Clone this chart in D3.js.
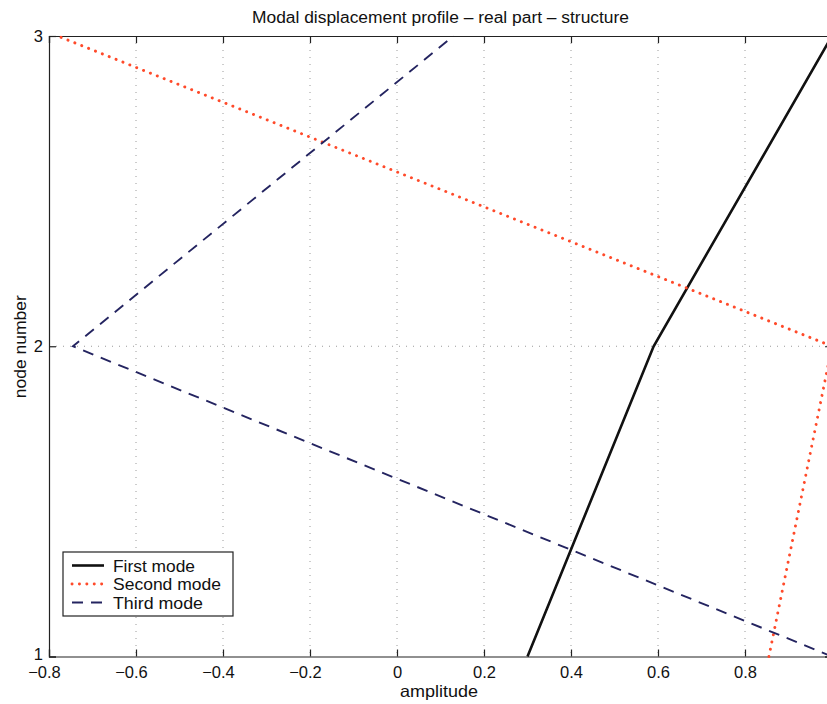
<!DOCTYPE html>
<html>
<head>
<meta charset="utf-8">
<script src="https://cdn.jsdelivr.net/npm/d3@7"></script>
<style>
  body { margin: 0; background: #fff; }
  text { font-family: "Liberation Sans", Arial, sans-serif; }
</style>
</head>
<body>
<div id="chart"></div>
<script>
// node numbers and modal amplitudes
var nodes = [1, 2, 3];
var firstMode = [0.30, 0.59, 1.00];
var secondMode = [0.855, 1.00, -0.78];
var thirdMode = [1.00, -0.745, 0.13];
var xTicks = [-0.8, -0.6, -0.4, -0.2, 0, 0.2, 0.4, 0.6, 0.8, 1.0];
var yTicks = [1, 2, 3];
var seriesNames = ["First mode", "Second mode", "Third mode"];

var w = 827;
var h = 704;

var xScale = d3.scaleLinear()
                .domain([-0.8, 1.0])
                .range([49, 832]);

var yScale = d3.scaleLinear()
                .domain([1, 3])
                .range([656.5, 36]);

var svg = d3.select('#chart')
            .append('svg')
            .attr('width', w)
            .attr('height', h);

// dotted grid
svg.append('g')
    .selectAll('line')
    .data(xTicks.slice(1, -1))
    .enter()
    .append('line')
    .attr('x1', function(d) { return xScale(d); })
    .attr('x2', function(d) { return xScale(d); })
    .attr('y1', yScale(3))
    .attr('y2', yScale(1))
    .attr('stroke', '#9a9a9a')
    .attr('stroke-width', 1)
    .attr('stroke-dasharray', '1,6');

svg.append('g')
    .selectAll('line')
    .data(yTicks.slice(1, -1))
    .enter()
    .append('line')
    .attr('x1', xScale(-0.8))
    .attr('x2', xScale(1.0))
    .attr('y1', function(d) { return yScale(d); })
    .attr('y2', function(d) { return yScale(d); })
    .attr('stroke', '#9a9a9a')
    .attr('stroke-width', 1)
    .attr('stroke-dasharray', '1,6');

var fmt = d3.format('');

// the right end of the axis is cut off by the picture edge, so no label for 1
var xAxis = d3.axisBottom(xScale)
              .tickValues(xTicks)
              .tickSize(-7)
              .tickPadding(10)
              .tickFormat(function(d) { return d >= 1 ? '' : fmt(+d.toFixed(1)); });

var gx = svg.append('g')
    .attr('transform', 'translate(0,' + yScale(1) + ')')
    .call(xAxis);

// matlab centres the digits and lets the minus hang to the left
gx.selectAll('.tick text')
    .attr('dx', function(d) { return d < 0 ? -5 : 0; });

var xTop = d3.axisTop(xScale)
             .tickValues(xTicks)
             .tickSize(-7)
             .tickFormat('');

var gxt = svg.append('g')
    .attr('transform', 'translate(0,' + yScale(3) + ')')
    .call(xTop);

var yAxis = d3.axisLeft(yScale)
              .tickValues(yTicks)
              .tickSize(-7)
              .tickPadding(6)
              .tickFormat(d3.format('d'));

var gy = svg.append('g')
    .attr('transform', 'translate(' + xScale(-0.8) + ',0)')
    .call(yAxis);

// lowest label sits a little higher so it clears the -0.8 below it
gy.selectAll('.tick text')
    .attr('dy', function(d) { return d === 1 ? '0.2em' : '0.32em'; });

var yRight = d3.axisRight(yScale)
               .tickValues(yTicks)
               .tickSize(-7)
               .tickFormat('');

var gyr = svg.append('g')
    .attr('transform', 'translate(' + xScale(1.0) + ',0)')
    .call(yRight);

[gx, gxt, gy, gyr].forEach(function(g) {
    g.selectAll('path').attr('stroke', '#222').attr('stroke-width', 1.2);
    g.selectAll('line').attr('stroke', '#222').attr('stroke-width', 1.2);
    g.selectAll('text')
        .attr('font-size', '16.5px')
        .attr('fill', '#111')
        .style('font-family', '"Liberation Sans", Arial, sans-serif');
});

// mode shapes
var modes = [
    { name: seriesNames[0], values: firstMode, color: '#111111', width: 2.6, dash: null, cap: 'butt', len: 82 },
    { name: seriesNames[1], values: secondMode, color: '#ff4a2a', width: 2.9, dash: '0.1,7.3', cap: 'round', len: 108 },
    { name: seriesNames[2], values: thirdMode, color: '#242460', width: 1.9, dash: '11,8', cap: 'butt', len: 90 }
];

var line = d3.line()
             .x(function(d) { return xScale(d[0]); })
             .y(function(d) { return yScale(d[1]); });

svg.append('defs')
    .append('clipPath')
    .attr('id', 'plotclip')
    .append('rect')
    .attr('x', xScale(-0.8))
    .attr('y', yScale(3) - 2)
    .attr('width', xScale(1.0) - xScale(-0.8))
    .attr('height', yScale(1) - yScale(3) + 4);

svg.append('g')
    .attr('clip-path', 'url(#plotclip)')
    .selectAll('path')
    .data(modes)
    .enter()
    .append('path')
    .attr('d', function(m) {
        return line(m.values.map(function(v, i) { return [v, nodes[i]]; }));
    })
    .attr('fill', 'none')
    .attr('stroke', function(m) { return m.color; })
    .attr('stroke-width', function(m) { return m.width; })
    .attr('stroke-dasharray', function(m) { return m.dash; })
    .attr('stroke-linecap', function(m) { return m.cap; });

// legend
var legend = svg.append('g').attr('transform', 'translate(63,552)');

legend.append('rect')
    .attr('width', 170)
    .attr('height', 64)
    .attr('fill', '#fff')
    .attr('stroke', '#222')
    .attr('stroke-width', 1.2);

var rows = legend.selectAll('g.row')
    .data(modes)
    .enter()
    .append('g')
    .attr('class', 'row')
    .attr('transform', function(d, i) { return 'translate(0,' + (13.5 + i * 18.5) + ')'; });

rows.append('line')
    .attr('x1', 9)
    .attr('x2', 41)
    .attr('y1', 0)
    .attr('y2', 0)
    .attr('stroke', function(m) { return m.color; })
    .attr('stroke-width', function(m) { return m.width; })
    .attr('stroke-dasharray', function(m) { return m.dash; })
    .attr('stroke-linecap', function(m) { return m.cap; });

rows.append('text')
    .attr('x', 50)
    .attr('y', 0)
    .attr('dy', '0.36em')
    .attr('font-size', '17px')
    .attr('fill', '#111')
    .attr('textLength', function(m) { return m.len; })
    .attr('lengthAdjust', 'spacingAndGlyphs')
    .text(function(m) { return m.name; });

// titles
svg.append('text')
    .attr('x', 440.5)
    .attr('y', 22.5)
    .attr('text-anchor', 'middle')
    .attr('font-size', '16px')
    .attr('fill', '#111')
    .attr('textLength', 377)
    .attr('lengthAdjust', 'spacingAndGlyphs')
    .text('Modal displacement profile \u2013 real part \u2013 structure');

svg.append('text')
    .attr('x', 439)
    .attr('y', 697)
    .attr('text-anchor', 'middle')
    .attr('font-size', '16.5px')
    .attr('fill', '#111')
    .attr('textLength', 78)
    .attr('lengthAdjust', 'spacingAndGlyphs')
    .text('amplitude');

svg.append('text')
    .attr('transform', 'translate(26,' + (yScale(2) + 0.5) + ') rotate(-90)')
    .attr('text-anchor', 'middle')
    .attr('font-size', '16.5px')
    .attr('fill', '#111')
    .attr('textLength', 103)
    .attr('lengthAdjust', 'spacingAndGlyphs')
    .text('node number');
</script>
</body>
</html>
